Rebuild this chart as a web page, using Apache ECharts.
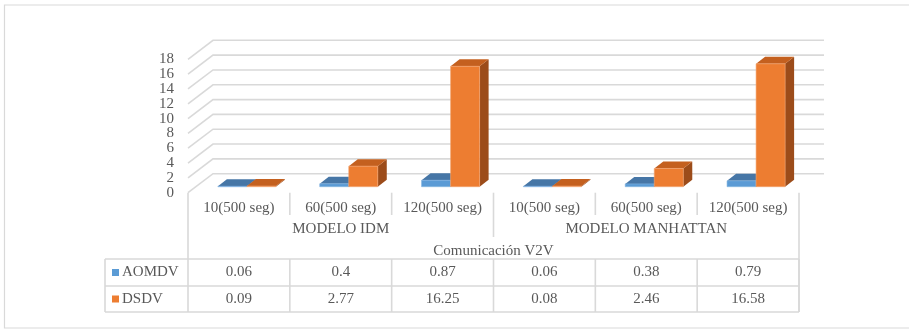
<!DOCTYPE html>
<html>
<head>
<meta charset="utf-8">
<script src="https://cdn.jsdelivr.net/npm/echarts@6/dist/echarts.min.js"></script>
<style>
html,body{margin:0;padding:0;background:#fff;}
#chart{width:909px;height:329px;}
</style>
</head>
<body>
<div id="chart"></div>
<script>
// ---- data ----
const categories = ['10(500 seg)', '60(500 seg)', '120(500 seg)', '10(500 seg)', '60(500 seg)', '120(500 seg)'];
const groups = ['MODELO IDM', 'MODELO MANHATTAN'];
const axisTitle = 'Comunicación V2V';
const seriesNames = ['AOMDV', 'DSDV'];
const aomdv = [0.06, 0.4, 0.87, 0.06, 0.38, 0.79];
const dsdv = [0.09, 2.77, 16.25, 0.08, 2.46, 16.58];
const yTicks = [0, 2, 4, 6, 8, 10, 12, 14, 16, 18];

// ---- styles / layout ----
const FONT = 'Liberation Serif';
const TXT = '#595959';
const GRIDC = '#d9d9d9';
const DX = 25, DY = 19;           // back wall offset
const BX = 8, BY = 6;             // bar front-face offset (depth)
const TX = 9, TY = 7;             // bar depth
const colors = [
  { front: '#5B9BD5', top: '#4676A6', side: '#3C6590', edge: '#7fb1e0' },
  { front: '#ED7D31', top: '#C4601F', side: '#9C4C1A', edge: '#f4a470' }
];
const GL = 188, GR = 799, GT = 59.3, GB = 192.7;
const TABLE_L = 105, ROW1 = 208, ROW2 = 229, ROW3 = 251, TL1 = 259, TL2 = 286, TL3 = 312;

const chart = echarts.init(document.getElementById('chart'), null, { renderer: 'canvas' });

function gridSeries() {
  return {
    type: 'custom', silent: true, clip: false, z: 1,
    data: yTicks.map(v => [0, v]),
    renderItem: function (params, api) {
      const cs = params.coordSys;
      const y = api.coord([0, api.value(1)])[1];
      return {
        type: 'polyline',
        shape: { points: [[cs.x, y], [cs.x + DX, y - DY], [cs.x + cs.width + DX, y - DY]] },
        style: { stroke: GRIDC, lineWidth: 1.6, fill: null }
      };
    }
  };
}

function barSeries(idx, values) {
  return {
    type: 'custom', name: seriesNames[idx], silent: true, clip: false, z: 3 + idx,
    data: values.map((v, i) => [i, v]),
    renderItem: function (params, api) {
      const i = api.value(0), v = api.value(1);
      const left = api.coord([i, 0])[0], right = api.coord([i + 1, 0])[0];
      const cw = right - left;
      const bw = cw * 0.285;
      const center = (left + right) / 2;
      const x = (idx === 0 ? center - bw : center) + BX;
      const yBase = api.coord([i, 0])[1] - BY;
      const yTop = api.coord([i, v])[1] - BY;
      const c = colors[idx];
      return {
        type: 'group',
        children: [
          { type: 'polygon', shape: { points: [[x + bw, yTop], [x + bw + TX, yTop - TY], [x + bw + TX, yBase - TY], [x + bw, yBase]] }, style: { fill: c.side } },
          { type: 'polygon', shape: { points: [[x, yTop], [x + TX, yTop - TY], [x + bw + TX, yTop - TY], [x + bw, yTop]] }, style: { fill: c.top } },
          { type: 'rect', shape: { x: x, y: yTop, width: bw, height: Math.max(yBase - yTop, 0.5) }, style: { fill: c.front, stroke: c.edge, lineWidth: 0.6 } }
        ]
      };
    }
  };
}

function tableSeries() {
  return {
    type: 'custom', silent: true, clip: false, z: 2,
    data: categories.map((c, i) => [i, 0]),
    renderItem: function (params, api) {
      const i = api.value(0);
      const left = api.coord([i, 0])[0], right = api.coord([i + 1, 0])[0];
      const center = (left + right) / 2;
      const groupEnd = (i % 3 === 2);
      const ch = [];
      const txt = (t, x, y, align) => ({
        type: 'text',
        style: { text: t, x: x, y: y, fill: TXT, fontSize: 15, fontFamily: FONT, align: align || 'center', verticalAlign: 'middle' }
      });
      ch.push(txt(categories[i], center, ROW1));
      if (i % 3 === 1) ch.push(txt(groups[Math.floor(i / 3)], center, ROW2));
      ch.push(txt(String(aomdv[i]), center, (TL1 + TL2) / 2));
      ch.push(txt(String(dsdv[i]), center, (TL2 + TL3) / 2));
      const yEnd = i === categories.length - 1 ? TL3 : (groupEnd ? 237 : 215);
      ch.push({ type: 'line', shape: { x1: right, y1: GB, x2: right, y2: yEnd }, style: { stroke: GRIDC, lineWidth: 1.6 } });
      ch.push({ type: 'line', shape: { x1: right, y1: TL1, x2: right, y2: TL3 }, style: { stroke: GRIDC, lineWidth: 1.6 } });
      return { type: 'group', children: ch };
    }
  };
}

const rowY = [(TL1 + TL2) / 2, (TL2 + TL3) / 2];
const graphics = [
  { type: 'rect', shape: { x: 4.5, y: 5, width: 920, height: 323 }, style: { fill: null, stroke: '#d9d9d9', lineWidth: 1.2 }, silent: true, z: 0 },
  { type: 'line', shape: { x1: GL, y1: GB, x2: GL, y2: TL3 }, style: { stroke: GRIDC, lineWidth: 1.6 }, silent: true },
  { type: 'line', shape: { x1: TABLE_L, y1: TL1, x2: TABLE_L, y2: TL3 }, style: { stroke: GRIDC, lineWidth: 1.6 }, silent: true },
  { type: 'line', shape: { x1: TABLE_L, y1: TL1, x2: GR, y2: TL1 }, style: { stroke: GRIDC, lineWidth: 1.6 }, silent: true },
  { type: 'line', shape: { x1: TABLE_L, y1: TL2, x2: GR, y2: TL2 }, style: { stroke: GRIDC, lineWidth: 1.6 }, silent: true },
  { type: 'line', shape: { x1: TABLE_L, y1: TL3, x2: GR, y2: TL3 }, style: { stroke: GRIDC, lineWidth: 1.6 }, silent: true },
  { type: 'text', style: { text: axisTitle, x: (GL + GR) / 2, y: ROW3, fill: TXT, fontSize: 15, fontFamily: FONT, align: 'center', verticalAlign: 'middle' }, silent: true }
];
seriesNames.forEach((n, k) => {
  graphics.push({ type: 'rect', shape: { x: 112, y: rowY[k] - 3.5, width: 7, height: 7 }, style: { fill: colors[k].front }, silent: true });
  graphics.push({ type: 'text', style: { text: n, x: 122, y: rowY[k], fill: TXT, fontSize: 15, fontFamily: FONT, align: 'left', verticalAlign: 'middle' }, silent: true });
});

chart.setOption({
  animation: false,
  backgroundColor: '#fff',
  grid: { left: GL, top: GT, width: GR - GL, height: GB - GT, containLabel: false },
  xAxis: { type: 'value', min: 0, max: categories.length, show: false },
  yAxis: {
    type: 'value', min: 0, max: 18, interval: 2,
    axisLine: { show: false }, axisTick: { show: false }, splitLine: { show: false },
    axisLabel: { color: TXT, fontSize: 15, fontFamily: FONT, margin: 14, showMinLabel: true, showMaxLabel: true, hideOverlap: false, lineHeight: 14 }
  },
  graphic: graphics,
  series: [gridSeries(), tableSeries(), barSeries(0, aomdv), barSeries(1, dsdv)]
});
</script>
</body>
</html>
